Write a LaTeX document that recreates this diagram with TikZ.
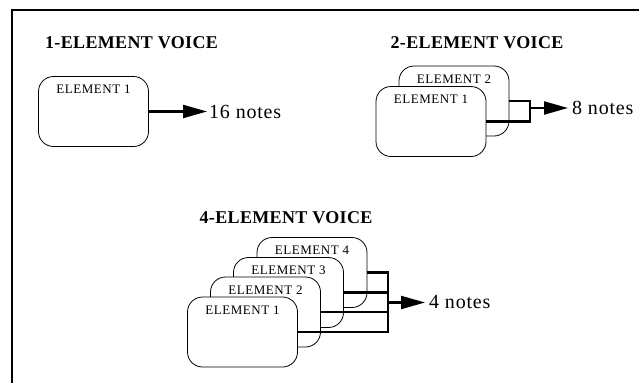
\documentclass[tikz,border=0pt]{standalone}
\usepackage{fontspec}
\setmainfont{Liberation Serif}
\usetikzlibrary{arrows.meta}
\begin{document}
\begin{tikzpicture}[x=1pt,y=-1pt,
  elbox/.style={draw, line width=0.8pt, rounded corners=15pt, fill=white,
    minimum width=110pt, minimum height=70pt, inner sep=0pt},
  eltext/.style={font=\fontsize{13}{14}\selectfont\addfontfeatures{LetterSpace=4}, inner sep=0pt, anchor=north},
  title/.style={font=\bfseries\fontsize{18}{20}\selectfont\addfontfeatures{LetterSpace=2}, inner sep=0pt},
  notes/.style={font=\fontsize{20}{22}\selectfont\addfontfeatures{LetterSpace=4}, inner sep=0pt, anchor=west},
  conn/.style={line width=2.2pt},
  arr/.style={line width=2.2pt, -{Triangle[length=24pt,width=13pt]}}
]
\useasboundingbox (0,0) rectangle (639,383);
% frame
\draw[line width=1.4pt] (11,10) -- (639,10);
\draw[line width=1.4pt] (12,10) -- (12,383);

% 1-element voice
\node[title] (t1) at (131.5,43) {1-ELEMENT VOICE};
\node[elbox] (a1) at (93.5,111.5) {};
\node[eltext] (a1t) at ([yshift=-9pt]a1.north) {ELEMENT 1};
\node[notes] (n1) at (209,111.5) {16 notes};
\draw[arr] (a1.east) -- ([xshift=-2pt]n1.west);

% 2-element voice
\node[title] (t2) at (477,43) {2-ELEMENT VOICE};
\node[elbox] (b2) at (454,101) {};
\node[eltext] (b2t) at ([yshift=-9pt]b2.north) {ELEMENT 2};
\node[elbox] (b1) at (431,121.5) {};
\node[eltext] (b1t) at ([yshift=-9pt]b1.north) {ELEMENT 1};
\coordinate (bar2) at (530,108);
\node[notes] (n2) at (572,108) {8 notes};
\draw[conn] (b2.east) -- (b2.east -| bar2) -- (b1.east -| bar2) -- (b1.east);
\draw[arr] (bar2) -- ([xshift=-4pt]n2.west);

% 4-element voice
\node[title] (t4) at (286,218) {4-ELEMENT VOICE};
\node[elbox] (c4) at (312,272.5) {};
\node[eltext] (c4t) at ([yshift=-9pt]c4.north) {ELEMENT 4};
\node[elbox] (c3) at (288.5,292.5) {};
\node[eltext] (c3t) at ([yshift=-9pt]c3.north) {ELEMENT 3};
\node[elbox] (c2) at (265.5,312) {};
\node[eltext] (c2t) at ([yshift=-9pt]c2.north) {ELEMENT 2};
\node[elbox] (c1) at (242.5,332) {};
\node[eltext] (c1t) at ([yshift=-9pt]c1.north) {ELEMENT 1};
\coordinate (bar4) at (388,302.5);
\node[notes] (n4) at (429,302.5) {4 notes};
\draw[conn] (c4.east) -- (c4.east -| bar4) -- (c1.east -| bar4) -- (c1.east);
\draw[conn] (c3.east) -- (c3.east -| bar4);
\draw[conn] (c2.east) -- (c2.east -| bar4);
\draw[arr] (bar4) -- ([xshift=-4pt]n4.west);
\end{tikzpicture}
\end{document}
